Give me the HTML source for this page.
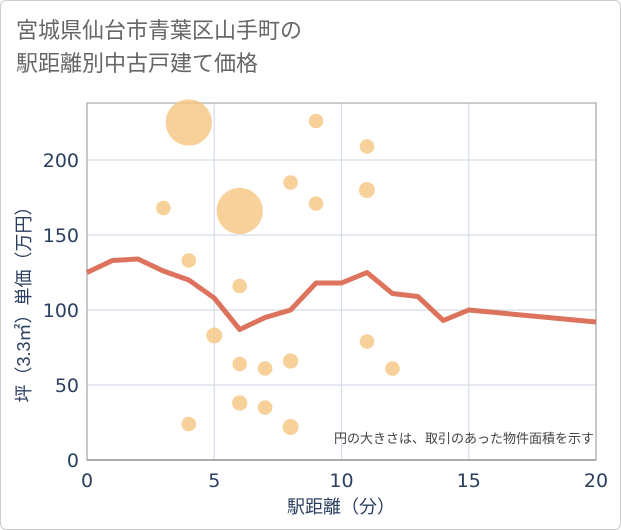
<!DOCTYPE html>
<html><head><meta charset="utf-8"><style>
body{margin:0;background:#fff;font-family:"Liberation Sans","Noto Sans CJK JP",sans-serif;}
.frame{position:absolute;left:0;top:0;width:619px;height:528px;border:1px solid #ccc;border-radius:6px;}
.title{position:absolute;left:16px;top:14px;font-size:22px;line-height:33px;color:#666;}
</style></head><body>
<div class="frame"></div>
<div class="title">宮城県仙台市青葉区山手町の<br>駅距離別中古戸建て価格</div>
<svg id="c" width="621" height="530" style="position:absolute;left:0;top:0"></svg>
<script>
const xTicks=[0,5,10,15,20];
const yTicks=[0,50,100,150,200];
const lineX=[0,1,2,3,4,5,6,7,8,9,10,11,12,13,14,15,20];
const lineY=[125,133,134,126,120,108,87,95,100,118,118,125,111,109,93,100,92];
const bubX=[4,6,9,11,8,11,3,9,4,6,5,11,6,7,8,12,6,7,4,8];
const bubY=[225,166,226,209,185,180,168,171,133,116,83,79,64,61,66,61,38,35,24,22];
const bubA=[10,10,1,1,1,1.2,1,1,1,1,1.2,1,1,1,1.1,1,1.1,1,1,1.2];
const L=87,R=596,T=103,B=460;
const sx=v=>L+(R-L)*v/20, sy=v=>B-(B-T)*v/238;
const s=document.getElementById('c');const NS='http://www.w3.org/2000/svg';
function mk(t,a,p){const e=document.createElementNS(NS,t);for(const k in a)e.setAttribute(k,a[k]);(p||s).appendChild(e);return e;}
let e;
e=mk('rect',{x:L,y:T,width:R-L,height:B-T,fill:'#fff',stroke:'#999','stroke-width':1});


yTicks.forEach(v=>{
 e=mk('line',{x1:L,x2:R,y1:sy(v),y2:sy(v),stroke:'#d5dde8','stroke-width':1.2});
 
 
 e=mk('text',{x:L-8,y:sy(v)+7,'text-anchor':'end','font-size':19,fill:'#2a3f5f','font-family':'DejaVu Sans, sans-serif'});e.textContent=v;
 
 
});
xTicks.forEach(v=>{
 e=mk('line',{x1:sx(v),x2:sx(v),y1:T,y2:B,stroke:'#d5dde8','stroke-width':1.2});
 
 
 e=mk('text',{x:sx(v),y:B+27,'text-anchor':'middle','font-size':19,fill:'#2a3f5f','font-family':'DejaVu Sans, sans-serif'});e.textContent=v;
 
 
});
mk('line',{x1:L,x2:R,y1:B,y2:B,stroke:'#888','stroke-width':1.5});
mk('rect',{x:L,y:T,width:R-L,height:B-T,fill:'none',stroke:'#999','stroke-width':1});
bubX.forEach((x,i)=>{
 e=mk('circle',{cx:sx(x),cy:sy(bubY[i]),r:7.3*Math.sqrt(bubA[i]),fill:'#f5c57f','fill-opacity':0.8});
 
 
});
e=mk('polyline',{points:lineX.map((x,i)=>sx(x)+','+sy(lineY[i])).join(' '),fill:'none',stroke:'#d9644b','stroke-width':5,'stroke-opacity':0.9,'stroke-linejoin':'round'});


e=mk('text',{x:R-2,y:443,'text-anchor':'end','font-size':13,fill:'#444'});e.textContent='円の大きさは、取引のあった物件面積を示す';


e=mk('text',{x:341,y:513,'text-anchor':'middle','font-size':18,fill:'#2a3f5f'});e.textContent='駅距離（分）';


e=mk('text',{x:0,y:0,'text-anchor':'middle','font-size':18,fill:'#2a3f5f',transform:'translate(30,300) rotate(-90)'});e.textContent='坪（3.3㎡）単価（万円）';


</script>
</body></html>
